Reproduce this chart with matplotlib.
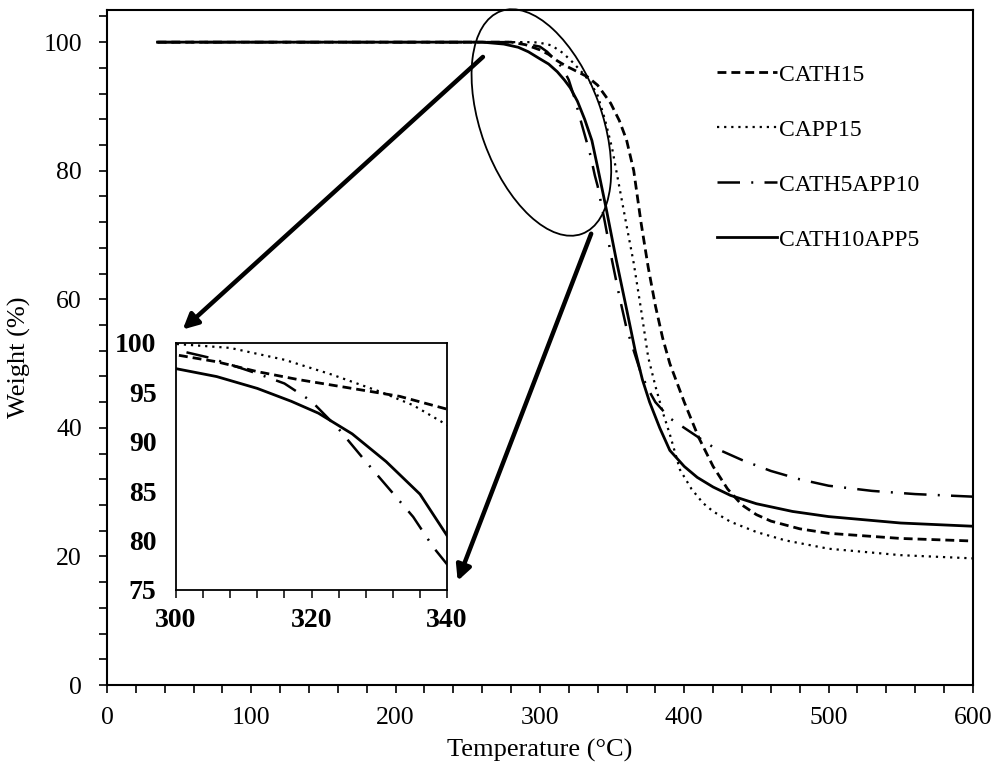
import matplotlib
matplotlib.use("Agg")
import matplotlib.pyplot as plt
from matplotlib.patches import Ellipse
from matplotlib.transforms import ScaledTranslation
from matplotlib.ticker import MultipleLocator

plt.rcParams['font.family'] = ['Liberation Serif', 'DejaVu Serif']

# TGA curves (temperature in degC, weight in %)
cath15_t = [35, 280, 290, 300, 306, 312, 318, 326, 333, 340, 349, 355, 360, 365, 370,
            375, 380, 385, 390, 400, 410, 420, 430, 440, 450, 460, 480, 500, 550, 600]
cath15_w = [100, 100, 99.6, 98.8, 98.1, 97.1, 96.3, 95.4, 94.6, 93.3, 90.5, 87.8, 84.8, 80, 72,
            65, 59, 54, 50, 44, 38.5, 34, 30.5, 28, 26.5, 25.5, 24.3, 23.6, 22.8, 22.4]

capp15_t = [35, 295, 300, 308, 316, 323, 330, 335, 340, 345, 350, 355, 360, 365, 370,
            375, 380, 385, 390, 397, 405, 413, 420, 432, 450, 470, 500, 550, 600]
capp15_w = [100, 100, 99.9, 99.5, 98.3, 96.8, 95.1, 93.7, 91.7, 88, 83.5, 77.5, 71.5, 65.6, 58.5,
            51, 46.5, 42.5, 39, 33.5, 30.5, 28.3, 27, 25.4, 23.8, 22.5, 21.2, 20.2, 19.7]

cath5app10_t = [35, 285, 300, 305, 312, 316, 320, 324, 328, 332, 335, 338, 340, 345, 350, 355,
                360, 365, 370, 375, 380, 390, 400, 410, 420, 440, 460, 480, 500, 530, 560, 600]
cath5app10_w = [100, 100, 99.3, 98.5, 96.9, 95.9, 94.1, 91.3, 88, 84.8, 82.4, 79.3, 77.6, 72, 66, 60.5,
                55.5, 52, 48.5, 46, 44, 41.5, 40, 38.5, 37, 35, 33.3, 32, 31, 30.2, 29.7, 29.3]

cath10app5_t = [35, 260, 275, 285, 292, 300, 306, 312, 317, 321, 326, 331, 336, 340, 346, 353,
                360, 366, 371, 376, 383, 390, 400, 409, 420, 432, 450, 475, 500, 550, 600]
cath10app5_w = [100, 100, 99.7, 99.2, 98.5, 97.4, 96.6, 95.4, 94.1, 92.9, 90.8, 88, 84.7, 80.5, 74, 66,
                58.5, 52, 47.5, 44, 40, 36.5, 34, 32.3, 30.8, 29.5, 28.2, 27, 26.2, 25.2, 24.7]

labels = ["CATH15", "CAPP15", "CATH5APP10", "CATH10APP5"]

series = [
    (cath15_t, cath15_w, dict(ls=(0, (3.2, 1.8)), lw=2.0)),
    (capp15_t, capp15_w, dict(ls=(0, (1, 2.2)), lw=1.6)),
    (cath5app10_t, cath5app10_w, dict(ls=(0, (9, 4.5, 0.8, 4.5)), lw=1.8)),
    (cath10app5_t, cath10app5_w, dict(ls='-', lw=2.0)),
]

fig = plt.figure(figsize=(9.95, 7.69), dpi=100)
ax = fig.add_axes([0.1075, 0.1092, 0.8703, 0.8778])

for (t, w, st), lab in zip(series, labels):
    ax.plot(t, w, color='black', label=lab, **st)

ax.set_xlim(0, 600)
ax.set_ylim(0, 105)
ax.xaxis.set_major_locator(MultipleLocator(100))
ax.xaxis.set_minor_locator(MultipleLocator(20))
ax.yaxis.set_major_locator(MultipleLocator(20))
ax.yaxis.set_minor_locator(MultipleLocator(4))
ax.tick_params(which='both', direction='out', length=6, width=1.2, labelsize=18.5, color='black')
ax.tick_params(axis='x', pad=10)
ax.tick_params(axis='y', pad=12)
for sp in ax.spines.values():
    sp.set_linewidth(1.5)
ax.set_xlabel("Temperature (°C)", fontsize=19, labelpad=7)
ax.set_ylabel("Weight (%)", fontsize=19)
ax.yaxis.set_label_coords(-0.088, 0.486)

ax.legend(loc='upper left', bbox_to_anchor=(0.704, 0.92), frameon=False, fontsize=17,
          handlelength=2.55, handletextpad=0.1, labelspacing=1.42, borderpad=0, borderaxespad=0)

# ellipse marking the zoomed region (size in inches, centred on a data point)
ell = Ellipse((0, 0), width=2.37, height=1.21, angle=-70, fill=False, lw=1.3, ec='black',
              transform=fig.dpi_scale_trans + ScaledTranslation(301, 87.5, ax.transData),
              clip_on=False)
ax.add_patch(ell)

arrow_style = dict(arrowstyle='-|>,head_length=0.9,head_width=0.45', lw=3.2, color='black',
                   shrinkA=0, shrinkB=0)
ax.annotate("", xy=(52.5, 55.3), xytext=(260.5, 97.7), arrowprops=arrow_style)
ax.annotate("", xy=(243, 16.2), xytext=(335.5, 70.2), arrowprops=arrow_style)

# zoom inset
ins = fig.add_axes([0.1769, 0.2328, 0.2724, 0.3212])
for (t, w, st), lab in zip(series, labels):
    ins.plot(t, w, color='black', **st)
ins.set_xlim(300, 340)
ins.set_ylim(75, 100)
ins.xaxis.set_major_locator(MultipleLocator(20))
ins.xaxis.set_minor_locator(MultipleLocator(4))
ins.yaxis.set_major_locator(MultipleLocator(5))
ins.tick_params(which='both', direction='out', length=6, width=1.1, labelsize=20)
ins.tick_params(axis='x', pad=7)
ins.tick_params(axis='y', length=0, pad=14)
for lab in ins.get_xticklabels() + ins.get_yticklabels():
    lab.set_fontweight('bold')
for sp in ins.spines.values():
    sp.set_linewidth(1.3)

fig.savefig("out.png", dpi=100)
